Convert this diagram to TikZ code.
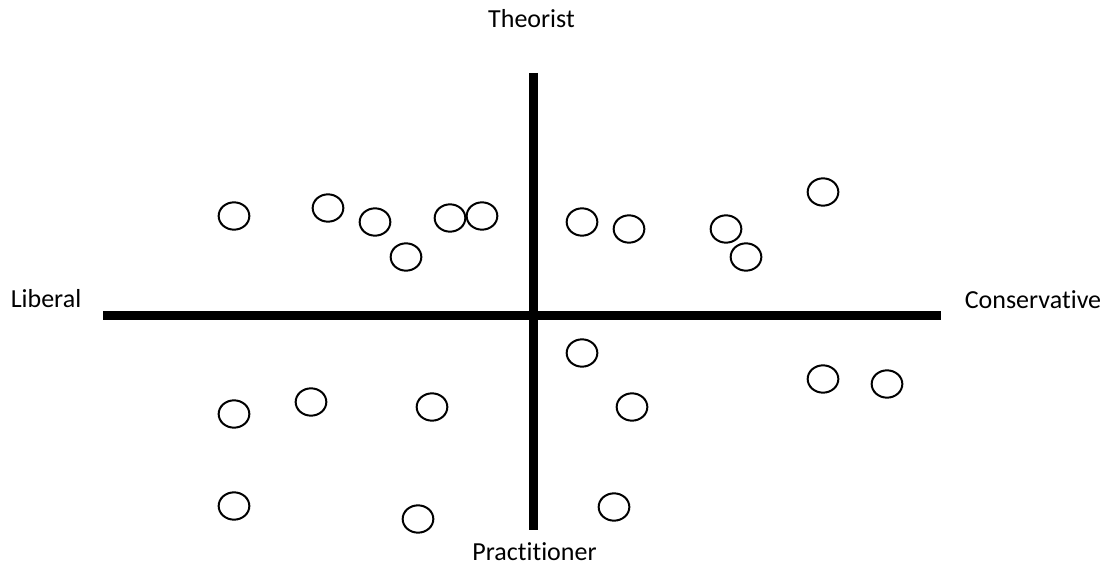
\documentclass[tikz,border=0pt]{standalone}
\usepackage{fontspec}
\setmainfont{Carlito}[Ligatures=NoCommon]
\usetikzlibrary{shapes.geometric}

\begin{document}
\begin{tikzpicture}[
    x=0.75pt, y=-0.75pt,
    axis/.style={line width=6.75pt},
    ring/.style={ellipse, draw, line width=1.5pt, minimum width=23pt, minimum height=20.5pt, inner sep=0pt},
    lbl/.style={anchor=base, inner sep=0pt, font=\fontsize{19.5}{22}\selectfont}
]
    \useasboundingbox (0,0) rectangle (1106,567);

    % Axis ends
    \coordinate (top) at (533,73);
    \coordinate (bottom) at (533,530);
    \coordinate (left) at (103,315);
    \coordinate (right) at (941,315);

    % Axes
    \draw[axis] (top) -- (bottom);
    \draw[axis] (left) -- (right);

    % Labels
    \node[lbl] (theo) at (531.5,28) {Theorist};
    \node[lbl] (prac) at (534.5,560) {Practitioner};
    \node[lbl] (lib) at (46,307) {Liberal};
    \node[lbl] (cons) at (1033,308) {Conservative};

    % Positions
    \foreach \n/\x/\y in {t1/234/216, t2/328/208, t3/375/222, t4/406/257, t5/450/218, t6/482/216,
                          t7/582/222, t8/629/229, t9/726/229, t10/746/257, t11/823/192,
                          b1/582/353, b2/632/407, b3/823/379, b4/887/384,
                          b5/234/414, b6/311/402, b7/432/407, b8/234/506, b9/418/519, b10/614/507}
        \node[ring] (\n) at (\x,\y) {};
\end{tikzpicture}
\end{document}
